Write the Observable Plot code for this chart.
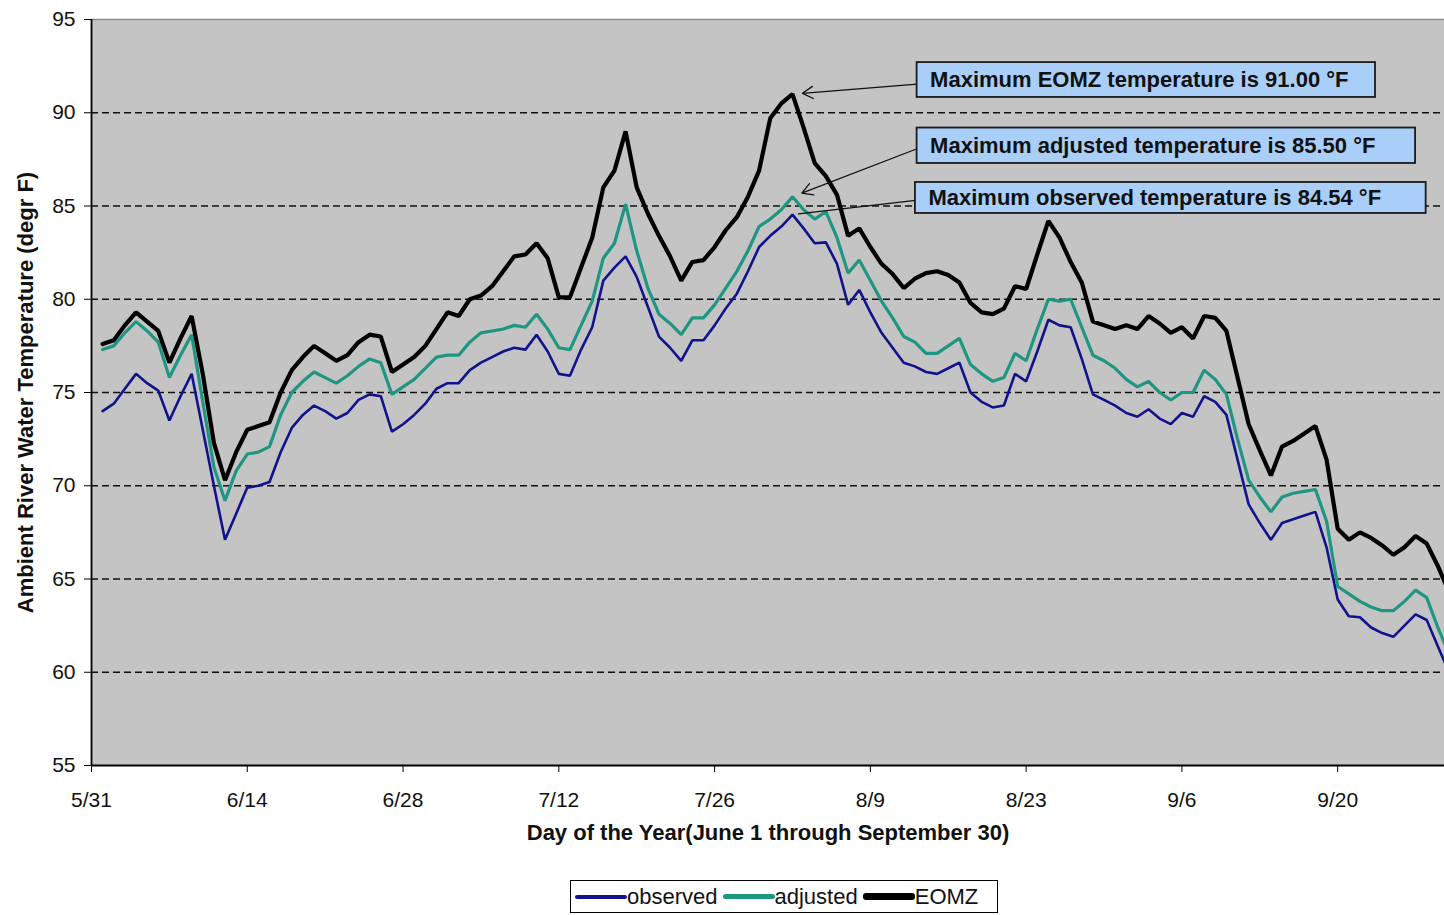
<!DOCTYPE html>
<html>
<head>
<meta charset="utf-8">
<script src="https://cdn.jsdelivr.net/npm/d3@7"></script>
<script src="https://cdn.jsdelivr.net/npm/@observablehq/plot@0.6"></script>
<style>
  body { margin: 0; background: #ffffff; font-family: "Liberation Sans", Arial, sans-serif; }
  #wrap { position: relative; width: 1444px; height: 915px; overflow: hidden; }
  #legend { position: absolute; left: 570px; top: 880px; width: 428px; height: 33px; box-sizing: border-box;
            border: 1.5px solid #000; background: #fff; display: flex; align-items: center;
            font-size: 22px; color: #111; padding-left: 4px; white-space: nowrap; }
  #legend .sw { display: inline-block; width: 52px; border-radius: 3px; margin-right: 0px; }
  #legend .lab { margin-right: 5px; }
</style>
</head>
<body>
<div id="wrap"><div id="chart"></div><div id="legend"></div></div>
<script>
// Daily values, June 1 .. September 30
const observed = [
  74.0, 74.4, 75.2, 76.0, 75.5, 75.1, 73.5, 74.8, 76.0, 73.0,
  70.0, 67.1, 68.5, 69.9, 70.0, 70.2, 71.8, 73.1, 73.8, 74.3,
  74.0, 73.6, 73.9, 74.6, 74.9, 74.8, 72.9, 73.3, 73.8, 74.4,
  75.2, 75.5, 75.5, 76.2, 76.6, 76.9, 77.2, 77.4, 77.3, 78.1,
  77.2, 76.0, 75.9, 77.3, 78.5, 81.0, 81.7, 82.3, 81.2, 79.6,
  78.0, 77.4, 76.7, 77.8, 77.8, 78.6, 79.5, 80.3, 81.5, 82.8,
  83.4, 83.9, 84.54, 83.8, 83.0, 83.05, 81.9, 79.7, 80.5, 79.3,
  78.2, 77.4, 76.6, 76.4, 76.1, 76.0, 76.3, 76.6, 75.0, 74.5,
  74.2, 74.3, 76.0, 75.6, 77.2, 78.9, 78.6, 78.5, 76.8, 74.9,
  74.6, 74.3, 73.9, 73.7, 74.1, 73.6, 73.3, 73.9, 73.7, 74.8,
  74.5, 73.8, 71.4, 69.0, 68.0, 67.1, 68.0, 68.2, 68.4, 68.6,
  66.7, 63.9, 63.0, 62.95, 62.4, 62.1, 61.9, 62.5, 63.1, 62.8,
  61.4, 60.0
];
const adjusted = [
  77.3, 77.5, 78.2, 78.8, 78.3, 77.7, 75.8, 77.0, 78.1, 74.5,
  71.0, 69.2, 70.8, 71.7, 71.8, 72.1, 73.8, 75.0, 75.6, 76.1,
  75.8, 75.5, 75.9, 76.4, 76.8, 76.6, 74.9, 75.3, 75.7, 76.3,
  76.9, 77.0, 77.0, 77.7, 78.2, 78.3, 78.4, 78.6, 78.5, 79.2,
  78.4, 77.4, 77.3, 78.6, 79.9, 82.2, 83.0, 85.1, 82.6, 80.6,
  79.2, 78.7, 78.1, 79.0, 79.0, 79.7, 80.6, 81.5, 82.6, 83.9,
  84.3, 84.8, 85.5, 84.8, 84.3, 84.7, 83.3, 81.4, 82.1, 81.0,
  79.9, 79.0, 78.0, 77.7, 77.1, 77.1, 77.5, 77.9, 76.5, 76.0,
  75.6, 75.8, 77.1, 76.7, 78.4, 80.0, 79.9, 80.0, 78.5, 77.0,
  76.7, 76.3, 75.7, 75.3, 75.6, 75.0, 74.6, 75.0, 75.0, 76.2,
  75.7, 74.9, 72.5, 70.3, 69.4, 68.6, 69.4, 69.6, 69.7, 69.8,
  68.1, 64.6, 64.2, 63.8, 63.5, 63.3, 63.3, 63.8, 64.4, 64.0,
  62.4, 61.0
];
const eomz = [
  77.6, 77.8, 78.6, 79.3, 78.8, 78.3, 76.6, 77.9, 79.1, 76.0,
  72.3, 70.3, 71.8, 73.0, 73.2, 73.4, 75.0, 76.2, 76.9, 77.5,
  77.1, 76.7, 77.0, 77.7, 78.1, 78.0, 76.1, 76.5, 76.9, 77.5,
  78.4, 79.3, 79.1, 80.0, 80.2, 80.7, 81.5, 82.3, 82.4, 83.0,
  82.2, 80.1, 80.1, 81.7, 83.3, 86.0, 86.9, 89.0, 86.0, 84.6,
  83.4, 82.3, 81.0, 82.0, 82.1, 82.8, 83.7, 84.4, 85.5, 86.9,
  89.7, 90.5, 91.0, 89.2, 87.3, 86.6, 85.6, 83.4, 83.8, 82.8,
  81.9, 81.35, 80.6, 81.1, 81.4, 81.5, 81.3, 80.9, 79.8, 79.3,
  79.2, 79.5, 80.7, 80.55, 82.4, 84.2, 83.3, 82.0, 80.9, 78.8,
  78.6, 78.4, 78.6, 78.4, 79.1, 78.7, 78.2, 78.5, 77.9, 79.1,
  79.0, 78.3, 75.8, 73.3, 71.9, 70.55, 72.1, 72.4, 72.8, 73.2,
  71.4, 67.7, 67.1, 67.5, 67.2, 66.8, 66.3, 66.7, 67.3, 66.9,
  65.7, 64.3
];
const seriesNames = ["observed", "adjusted", "EOMZ"];
const xTickLabels = ["5/31", "6/14", "6/28", "7/12", "7/26", "8/9", "8/23", "9/6", "9/20"];
const yTicks = [55, 60, 65, 70, 75, 80, 85, 90, 95];
const gridValues = [60, 65, 70, 75, 80, 85, 90];
const yTitle = "Ambient River Water Temperature (degr F)";
const xTitle = "Day of the Year(June 1 through September 30)";

// ---- styles / layout ----
const seriesStyle = {
  observed: { color: "#12128c", width: 2.6 },
  adjusted: { color: "#1e9682", width: 3.2 },
  EOMZ:     { color: "#000000", width: 4.2 }
};
// annotation boxes in data units (day offset from 5/31, temperature)
const annoLayout = [
  { series: "EOMZ",     x1: 74.2, x2: 115.4, y1: 90.82, y2: 92.69, tailY: 91.54, head: true },
  { series: "adjusted", x1: 74.2, x2: 119.0, y1: 87.28, y2: 89.18, tailY: 88.07, head: true },
  { series: "observed", x1: 74.05, x2: 119.95, y1: 84.60, y2: 86.26, tailY: 85.30, head: false }
];

const base = Date.UTC(2000, 4, 31);
const dayOf = s => { const [m, d] = s.split("/").map(Number); return (Date.UTC(2000, m - 1, d) - base) / 864e5; };
const xTicks = xTickLabels.map(dayOf);
const labelByDay = new Map(xTicks.map((d, i) => [d, xTickLabels[i]]));

const seriesValues = { observed, adjusted, EOMZ: eomz };
const rows = name => seriesValues[name].map((v, i) => ({ day: i + 1, value: v, series: name }));

const annos = annoLayout.map(a => {
  const vals = seriesValues[a.series];
  const mx = d3.max(vals);
  const at = vals.indexOf(mx) + 1;
  return { ...a, peakDay: at, peak: mx,
           text: `Maximum ${a.series} temperature is ${mx.toFixed(2)} \u00B0F`,
           yc: (a.y1 + a.y2) / 2 };
});

const font = "'Liberation Sans', Arial, sans-serif";

const chart = Plot.plot({
  width: 1444,
  height: 870,
  marginLeft: 91,
  marginRight: 0,
  marginTop: 19,
  marginBottom: 105,
  style: { fontFamily: font, fontSize: "21px", color: "#111", background: "transparent" },
  x: { domain: [0, 121.6] },
  y: { domain: [55, 95] },
  marks: [
    Plot.frame({ fill: "#c4c4c4", stroke: null }),
    Plot.ruleY(gridValues, { stroke: "#111", strokeWidth: 1.5, strokeDasharray: "7,4" }),
    Plot.ruleY([95], { stroke: "#8a8a8a", strokeWidth: 1.5 }),
    ...seriesNames.map(name => Plot.line(rows(name), {
      x: "day", y: "value", stroke: seriesStyle[name].color,
      strokeWidth: seriesStyle[name].width, strokeLinejoin: "miter", clip: true
    })),
    Plot.ruleX([0], { stroke: "#000", strokeWidth: 1.8 }),
    Plot.ruleY([55], { stroke: "#000", strokeWidth: 1.8 }),
    Plot.axisY({ ticks: yTicks, tickSize: 7, tickPadding: 9, tickFormat: d => d, label: null, stroke: "#000" }),
    Plot.axisX({ ticks: xTicks, tickSize: 7, tickPadding: 20, tickFormat: d => labelByDay.get(d), label: null, stroke: "#000" }),
    Plot.text([yTitle], { frameAnchor: "left", textAnchor: "middle", rotate: -90, dx: -66, fontWeight: "bold", fontSize: 22, fill: "#111" }),
    Plot.text([xTitle], { frameAnchor: "bottom", textAnchor: "middle", dy: 74, fontWeight: "bold", fontSize: 22, fill: "#111" }),
    // annotations
    Plot.arrow(annos.filter(a => a.head), {
      x1: "x1", y1: "tailY", x2: "peakDay", y2: "peak", stroke: "#111", strokeWidth: 1.3,
      headLength: 14, insetEnd: 10
    }),
    Plot.arrow(annos.filter(a => !a.head), {
      x1: "x1", y1: "tailY", x2: "peakDay", y2: "peak", stroke: "#111", strokeWidth: 1.3,
      headLength: 0, insetEnd: 6
    }),
    Plot.rect(annos, { x1: "x1", x2: "x2", y1: "y1", y2: "y2", fill: "#a9cff8", stroke: "#1a1a1a", strokeWidth: 1.8 }),
    Plot.text(annos, { x: "x1", y: "yc", text: "text", textAnchor: "start", dx: 13, fontWeight: "bold", fontSize: 22, fill: "#111" })
  ]
});
document.getElementById("chart").appendChild(chart);

// legend (line swatches)
const legend = document.getElementById("legend");
const swH = { observed: 4, adjusted: 5, EOMZ: 7 };
seriesNames.forEach(name => {
  const sw = document.createElement("span");
  sw.className = "sw";
  sw.style.height = swH[name] + "px";
  sw.style.background = seriesStyle[name].color;
  const lab = document.createElement("span");
  lab.className = "lab";
  lab.textContent = name;
  legend.appendChild(sw);
  legend.appendChild(lab);
});
</script>
</body>
</html>
